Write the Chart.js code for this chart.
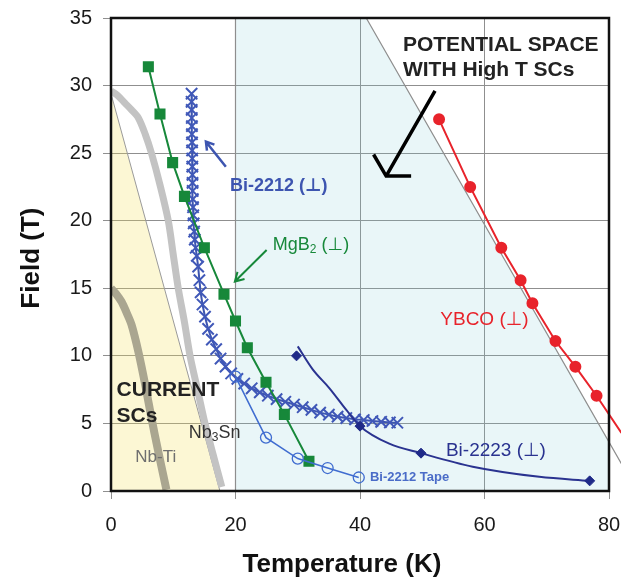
<!DOCTYPE html>
<html>
<head>
<meta charset="utf-8">
<title>Field vs Temperature</title>
<script src="https://cdn.jsdelivr.net/npm/chart.js"></script>
<style>
    body { margin: 0; background: #fff; }
    canvas { display: block; }
</style>
</head>
<body>
<canvas id="fieldChart" width="621" height="580"></canvas>
<script>
    const FONT = "'Liberation Sans', Arial, 'DejaVu Sans', sans-serif";

    // measured curves, temperature (K) / field (T)
    const nbtiT = [0, 0.8, 1.7, 2.5, 3.3, 4.4, 5.5, 6.5, 7.6, 8.9];
    const nbtiB = [15.0, 14.6, 14.0, 13.2, 12.3, 10.3, 7.85, 5.4, 2.9, 0.1];

    const nb3snT = [0, 1.0, 2.25, 3.3, 4.4, 5.5, 6.5, 7.9, 9.2, 10.0, 10.8, 11.8, 12.7, 13.9, 15.1, 16.4, 17.8];
    const nb3snB = [29.6, 29.3, 28.7, 28.2, 27.6, 26.4, 25.0, 22.6, 20.0, 17.5, 15.0, 12.5, 10.0, 7.5, 5.0, 2.7, 0.3];

    const mgb2T = [6.0, 7.87, 9.9, 11.8, 15.0, 18.15, 20.0, 21.9, 24.9, 27.85, 31.8];
    const mgb2B = [31.4, 27.9, 24.3, 21.8, 18.0, 14.56, 12.58, 10.6, 8.04, 5.67, 2.2];

    const bi2212T = [12.95, 12.95, 12.97, 12.98, 13.0, 13.0, 13.02, 13.03, 13.05, 13.06, 13.08, 13.1, 13.12, 13.15, 13.18,
        13.22, 13.28, 13.36, 13.46, 13.6, 13.78, 14.0, 14.2, 14.4, 14.7, 15.1, 15.6, 16.2, 16.9, 17.6, 18.4, 19.3,
        20.3, 21.4, 22.6, 23.9, 25.2, 26.6, 28.0, 29.4, 30.8, 32.2, 33.6, 35.0, 36.4, 37.8, 39.2, 40.6, 42.0, 43.4, 44.8, 46.0];
    const bi2212B = [29.4, 28.8, 28.2, 27.6, 27.0, 26.4, 25.8, 25.2, 24.6, 24.0, 23.4, 22.8, 22.2, 21.6, 21.0,
        20.4, 19.8, 19.2, 18.6, 18.0, 17.4, 16.6, 15.6, 14.7, 13.8, 12.9, 12.0, 11.2, 10.5, 9.8, 9.2, 8.7,
        8.3, 7.95, 7.6, 7.3, 7.05, 6.8, 6.6, 6.4, 6.2, 6.0, 5.8, 5.65, 5.5, 5.4, 5.3, 5.25, 5.18, 5.12, 5.07, 5.05];

    const tapeT = [20.0, 24.9, 30.0, 34.8, 39.8];
    const tapeB = [8.46, 3.95, 2.4, 1.7, 1.0];

    const bi2223T = [29.8, 40.0, 49.8, 76.9];
    const bi2223B = [10.0, 4.8, 2.8, 0.75];
    const bi2223CurveT = [30.0, 32.4, 35.1, 37.8, 40.0, 44.7, 49.8, 58.1, 68.8, 76.9];
    const bi2223CurveB = [10.7, 9.0, 7.6, 6.0, 4.8, 3.5, 2.8, 1.8, 1.05, 0.75];

    const ybcoT = [52.7, 57.7, 62.7, 65.8, 67.7, 71.4, 74.6, 78.0, 82.0];
    const ybcoB = [27.5, 22.5, 18.0, 15.6, 13.9, 11.1, 9.2, 7.05, 4.3];

    // shaded regions
    const currentEdgeT = [0, 17.5];
    const currentEdgeB = [29.4, 0];
    const highTEdgeT = [20, 20, 41, 84.5];
    const highTEdgeB = [0, 35, 35, 0];

    const pts = (xs, ys) => xs.map((x, i) => ({ x: x, y: ys[i] }));

    // text labels, placed in data coordinates (left edge, vertical middle)
    const notes = [
        { text: 'POTENTIAL SPACE', x: 46.9, y: 33.0, font: 'bold 21px', color: '#222' },
        { text: 'WITH High T SCs', x: 46.9, y: 31.15, font: 'bold 21px', color: '#222' },
        { text: 'CURRENT', x: 0.9, y: 7.47, font: 'bold 21px', color: '#222' },
        { text: 'SCs', x: 0.9, y: 5.5, font: 'bold 21px', color: '#222' },
        { text: 'Bi-2212 (⊥)', x: 19.1, y: 22.6, font: 'bold 18px', color: '#3d55b0' },
        { text: 'MgB_2 (⊥)', x: 26.0, y: 18.2, font: '18px', color: '#17883a' },
        { text: 'YBCO (⊥)', x: 52.9, y: 12.65, font: '19px', color: '#e8232b' },
        { text: 'Bi-2223 (⊥)', x: 53.8, y: 2.96, font: '19px', color: '#2a3390' },
        { text: 'Bi-2212 Tape', x: 41.6, y: 1.04, font: 'bold 13px', color: '#4a6cc8' },
        { text: 'Nb_3Sn', x: 12.5, y: 4.3, font: '18px', color: '#333' },
        { text: 'Nb-Ti', x: 3.9, y: 2.5, font: '17px', color: '#6f6f6f' }
    ];

    // arrows: tail -> tip
    const arrows = [
        { from: [18.45, 24.0], to: [15.25, 25.85], head: 9, angle: 32, width: 2.5, color: '#3d55b0' },
        { from: [25.0, 17.83], to: [19.9, 15.5], head: 10, angle: 30, width: 2, color: '#17883a' },
        { from: [52.05, 29.6], to: [44.2, 23.3], head: 25, angle: 60, width: 3.5, color: '#000' }
    ];

    function drawNote(ctx, n, sx, sy) {
        const m = n.font.match(/(\d+)px/);
        const size = +m[1];
        const weight = n.font.indexOf('bold') >= 0 ? 'bold ' : '';
        const parts = n.text.split(/_(\d)/);
        let x = sx.getPixelForValue(n.x);
        const y = sy.getPixelForValue(n.y);
        ctx.fillStyle = n.color;
        ctx.textBaseline = 'middle';
        ctx.textAlign = 'left';
        parts.forEach((p, i) => {
            const sub = i % 2 === 1;
            ctx.font = weight + (sub ? Math.round(size * 0.68) : size) + 'px ' + FONT;
            ctx.fillText(p, x, sub ? y + size * 0.25 : y);
            x += ctx.measureText(p).width;
        });
    }

    function drawArrow(ctx, a, sx, sy) {
        const x1 = sx.getPixelForValue(a.from[0]), y1 = sy.getPixelForValue(a.from[1]);
        const x2 = sx.getPixelForValue(a.to[0]), y2 = sy.getPixelForValue(a.to[1]);
        const ang = Math.atan2(y1 - y2, x1 - x2);
        const h = a.angle * Math.PI / 180;
        ctx.strokeStyle = a.color;
        ctx.lineWidth = a.width;
        ctx.lineCap = 'butt';
        ctx.beginPath();
        ctx.moveTo(x1, y1);
        ctx.lineTo(x2, y2);
        ctx.moveTo(x2 + a.head * Math.cos(ang - h), y2 + a.head * Math.sin(ang - h));
        ctx.lineTo(x2, y2);
        ctx.lineTo(x2 + a.head * Math.cos(ang + h), y2 + a.head * Math.sin(ang + h));
        ctx.stroke();
    }

    const decorations = {
        id: 'decorations',
        afterDatasetsDraw(chart) {
            const ctx = chart.ctx, sx = chart.scales.x, sy = chart.scales.y;
            const a = chart.chartArea;
            ctx.save();
            ctx.strokeStyle = '#111';
            ctx.lineWidth = 2.5;
            ctx.strokeRect(a.left, a.top, a.right - a.left, a.bottom - a.top);
            notes.forEach(n => drawNote(ctx, n, sx, sy));
            arrows.forEach(ar => drawArrow(ctx, ar, sx, sy));
            ctx.restore();
        }
    };

    const overflowRight = { left: 0, top: 0, right: 12, bottom: 0 };

    new Chart(document.getElementById('fieldChart'), {
        type: 'scatter',
        data: {
            datasets: [
                {
                    label: 'YBCO', data: pts(ybcoT, ybcoB), showLine: true,
                    borderColor: '#e8232b', backgroundColor: '#e8232b', borderWidth: 2,
                    pointRadius: c => (c.raw && c.raw.x > 80 ? 0 : 5), clip: overflowRight
                },
                {
                    label: 'Bi-2223 points', data: pts(bi2223T, bi2223B), showLine: false,
                    pointStyle: 'rectRot', pointRadius: 5, borderColor: '#1f2a88', backgroundColor: '#1f2a88'
                },
                {
                    label: 'Bi-2223', data: pts(bi2223CurveT, bi2223CurveB), showLine: true,
                    borderColor: '#2a3390', borderWidth: 2, pointRadius: 0, cubicInterpolationMode: 'monotone'
                },
                {
                    label: 'Bi-2212 Tape', data: pts(tapeT, tapeB), showLine: true,
                    borderColor: '#3f6cd0', borderWidth: 1.5, pointRadius: 5.5,
                    pointBackgroundColor: 'rgba(0,0,0,0)', pointBorderColor: '#3f6cd0', pointBorderWidth: 1.3
                },
                {
                    label: 'MgB2', data: pts(mgb2T, mgb2B), showLine: true,
                    borderColor: '#17883a', backgroundColor: '#17883a', borderWidth: 2,
                    pointStyle: 'rect', pointRadius: 6.4
                },
                {
                    label: 'Bi-2212', data: pts(bi2212T, bi2212B), showLine: true,
                    borderColor: '#3d55b0', borderWidth: 2, pointStyle: 'crossRot', pointRadius: 8,
                    pointBorderColor: '#4058b8', pointBorderWidth: 2
                },
                {
                    label: 'Nb3Sn', data: pts(nb3snT, nb3snB), showLine: true,
                    borderColor: '#c3c3c3', borderWidth: 7, pointRadius: 0, tension: 0.3
                },
                {
                    label: 'Nb-Ti', data: pts(nbtiT, nbtiB), showLine: true,
                    borderColor: '#aaa690', borderWidth: 8, pointRadius: 0, tension: 0.3
                },
                {
                    label: 'current SCs', data: pts(currentEdgeT, currentEdgeB), showLine: true,
                    borderColor: '#9a9a9a', borderWidth: 1, pointRadius: 0,
                    fill: 'origin', backgroundColor: 'rgba(245, 225, 90, 0.26)'
                },
                {
                    label: 'high T edge', data: pts(highTEdgeT, highTEdgeB), showLine: true,
                    borderColor: '#8e8e8e', borderWidth: 1.2, pointRadius: 0, clip: overflowRight
                },
                {
                    label: 'high T space', data: pts(highTEdgeT, highTEdgeB), showLine: true,
                    borderWidth: 0, pointRadius: 0,
                    fill: 'origin', backgroundColor: 'rgba(120, 200, 210, 0.16)'
                }
            ]
        },
        options: {
            responsive: false,
            animation: false,
            devicePixelRatio: 1,
            layout: { padding: { top: 18, right: 12, left: 0, bottom: 0 } },
            plugins: {
                legend: { display: false },
                tooltip: { enabled: false }
            },
            scales: {
                x: {
                    type: 'linear', min: 0, max: 80,
                    afterFit: s => { s.height = 89; s.paddingLeft = 0; s.paddingRight = 0; },
                    ticks: { stepSize: 20, padding: 14, color: '#1a1a1a', font: { family: FONT, size: 20 } },
                    grid: { color: '#8f8f8f', lineWidth: 1, tickLength: 8, tickColor: '#8f8f8f' },
                    border: { display: false },
                    title: {
                        display: true, text: 'Temperature (K)     ', color: '#111',
                        font: { family: FONT, size: 26, weight: 'bold', lineHeight: 1.15 },
                        padding: { top: 0, bottom: 0 }
                    }
                },
                y: {
                    type: 'linear', min: 0, max: 35,
                    afterFit: s => { s.width = 111; s.paddingTop = 0; s.paddingBottom = 0; },
                    ticks: { stepSize: 5, padding: 11, color: '#1a1a1a', font: { family: FONT, size: 20 } },
                    grid: { color: '#8f8f8f', lineWidth: 1, tickLength: 8, tickColor: '#8f8f8f' },
                    border: { display: false },
                    title: {
                        display: true, text: 'Field (T) ', color: '#111',
                        font: { family: FONT, size: 26, weight: 'bold', lineHeight: 1.2 },
                        padding: { top: 16, bottom: 0 }
                    }
                }
            }
        },
        plugins: [decorations]
    });
</script>
</body>
</html>
